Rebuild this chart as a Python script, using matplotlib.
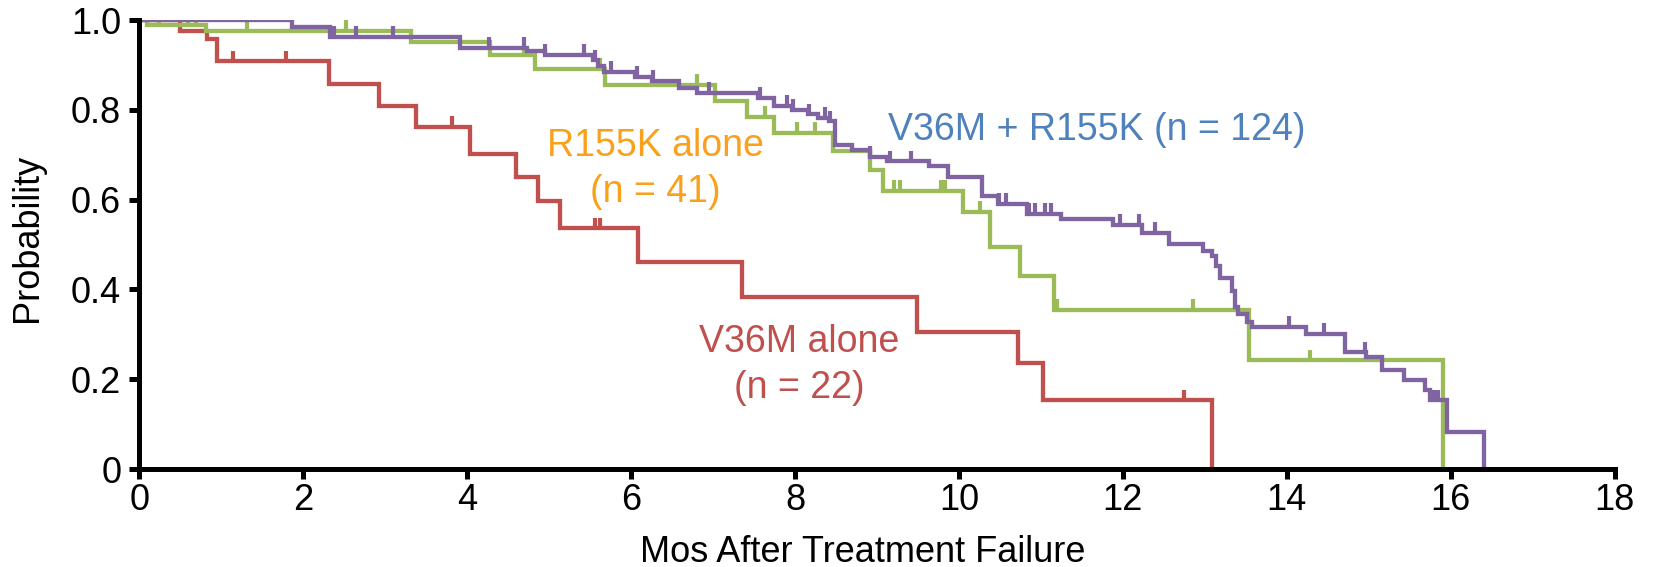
import numpy as np
import matplotlib
matplotlib.use('Agg')
import matplotlib.pyplot as plt

plt.rcParams['font.family'] = ['Liberation Sans', 'DejaVu Sans']

# Kaplan-Meier style step curves (time in months, survival probability)
red_t = [0, 0.5, 0.83, 0.95, 2.31, 2.92, 3.38, 4.03, 4.60, 4.86, 5.13, 6.09,
         7.35, 9.49, 10.72, 11.03, 13.09]
red_p = [1.0, 0.975, 0.958, 0.908, 0.857, 0.809, 0.762, 0.702, 0.650, 0.596,
         0.536, 0.460, 0.384, 0.306, 0.236, 0.153, 0.0]
red_cens = [1.14, 1.79, 3.81, 5.56, 5.62, 12.75]

green_t = [0, 0.1, 0.82, 3.32, 4.28, 4.83, 5.68, 7.02, 7.41, 7.74, 8.47, 8.92,
           9.08, 10.05, 10.38, 10.74, 11.16, 13.54, 15.91]
green_p = [1.0, 0.99, 0.975, 0.950, 0.922, 0.892, 0.855, 0.820, 0.785, 0.749,
           0.709, 0.667, 0.620, 0.573, 0.495, 0.430, 0.354, 0.242, 0.0]
green_cens = [0.24, 0.59, 0.69, 1.32, 2.52, 4.70, 5.62, 6.80, 7.64, 8.03, 8.25,
              9.21, 9.28, 9.78, 9.83, 10.26, 11.2, 12.86, 14.28]

purple_t = [0, 1.86, 2.33, 3.91, 4.73, 4.95, 5.54, 5.60, 5.67, 6.05, 6.25,
            6.58, 6.80, 7.55, 7.74, 7.96, 8.16, 8.28, 8.41, 8.49, 8.69, 8.92,
            9.12, 9.63, 9.87, 10.28, 10.48, 10.83, 11.25, 11.88, 12.23, 12.56,
            12.98, 13.09, 13.14, 13.18, 13.33, 13.37, 13.41, 13.52, 13.58,
            14.23, 14.71, 14.97, 15.16, 15.43, 15.69, 15.75, 15.95, 16.41]
purple_p = [1.0, 0.984, 0.962, 0.938, 0.931, 0.922, 0.910, 0.898, 0.885,
            0.874, 0.864, 0.848, 0.837, 0.826, 0.809, 0.800, 0.790, 0.782,
            0.774, 0.722, 0.711, 0.696, 0.685, 0.674, 0.650, 0.608, 0.590,
            0.568, 0.556, 0.543, 0.526, 0.502, 0.486, 0.474, 0.452, 0.425,
            0.397, 0.360, 0.345, 0.327, 0.317, 0.301, 0.260, 0.249, 0.220,
            0.199, 0.175, 0.153, 0.083, 0.0]
purple_cens = [2.38, 2.64, 3.10, 4.27, 4.70, 4.95, 5.43, 5.56, 5.76, 6.07, 6.27,
               6.95, 7.57, 7.90, 7.98, 8.17, 8.37, 8.43, 8.92, 9.16, 9.42, 10.49,
               10.57, 10.85, 10.93, 11.05, 11.12, 11.97, 12.20, 12.39, 14.03,
               14.46, 14.96, 15.80, 15.84]

RED = '#C0504D'
GREEN = '#9BBB59'
PURPLE = '#8064A2'
ORANGE = '#F9A11B'
BLUE = '#4F81BD'

fig = plt.figure(figsize=(16.56, 5.67), dpi=100)
ax = fig.add_axes([0.0841, 0.1728, 0.8909, 0.7919])


def km(ax, t, p, cens, color):
    ax.step(t, p, where='post', color=color, lw=3.1, solid_joinstyle='miter')
    t = np.asarray(t)
    p = np.asarray(p)
    for c in cens:
        idx = np.searchsorted(t, c, side='right') - 1
        y = p[idx]
        ax.vlines(c, y, y + 0.024, color=color, lw=3.0)


km(ax, red_t, red_p, red_cens, RED)
km(ax, green_t, green_p, green_cens, GREEN)
km(ax, purple_t, purple_p, purple_cens, PURPLE)

ax.set_xlim(0, 18)
ax.set_ylim(0, 1.0)
ax.set_xticks(np.arange(0, 19, 2))
ax.set_yticks([0, 0.2, 0.4, 0.6, 0.8, 1.0])
ax.set_yticklabels(['0', '0.2', '0.4', '0.6', '0.8', '1.0'])

for s in ['top', 'right']:
    ax.spines[s].set_visible(False)
for s in ['left', 'bottom']:
    ax.spines[s].set_linewidth(3.6)
    ax.spines[s].set_capstyle('projecting')
ax.tick_params(axis='both', direction='out', width=3.6, length=7,
               labelsize=26, colors='black')
ax.tick_params(axis='x', pad=3)
ax.tick_params(axis='y', pad=6)

fig.text(863 / 1656, 1 - 562 / 567, 'Mos After Treatment Failure',
         fontsize=26, ha='center', va='baseline')
fig.text(28 / 1656, 1 - 238 / 567, 'Probability', fontsize=26,
         rotation=90, ha='center', va='center')

ax.text(6.3, 0.668, 'R155K alone\n(n = 41)', color=ORANGE, fontsize=27,
        ha='center', va='center', linespacing=1.35)
ax.text(11.68, 0.755, 'V36M + R155K (n = 124)', color=BLUE, fontsize=27,
        ha='center', va='center')
ax.text(8.05, 0.232, 'V36M alone\n(n = 22)', color=RED, fontsize=27,
        ha='center', va='center', linespacing=1.35)

fig.savefig('out.png', dpi=100)
